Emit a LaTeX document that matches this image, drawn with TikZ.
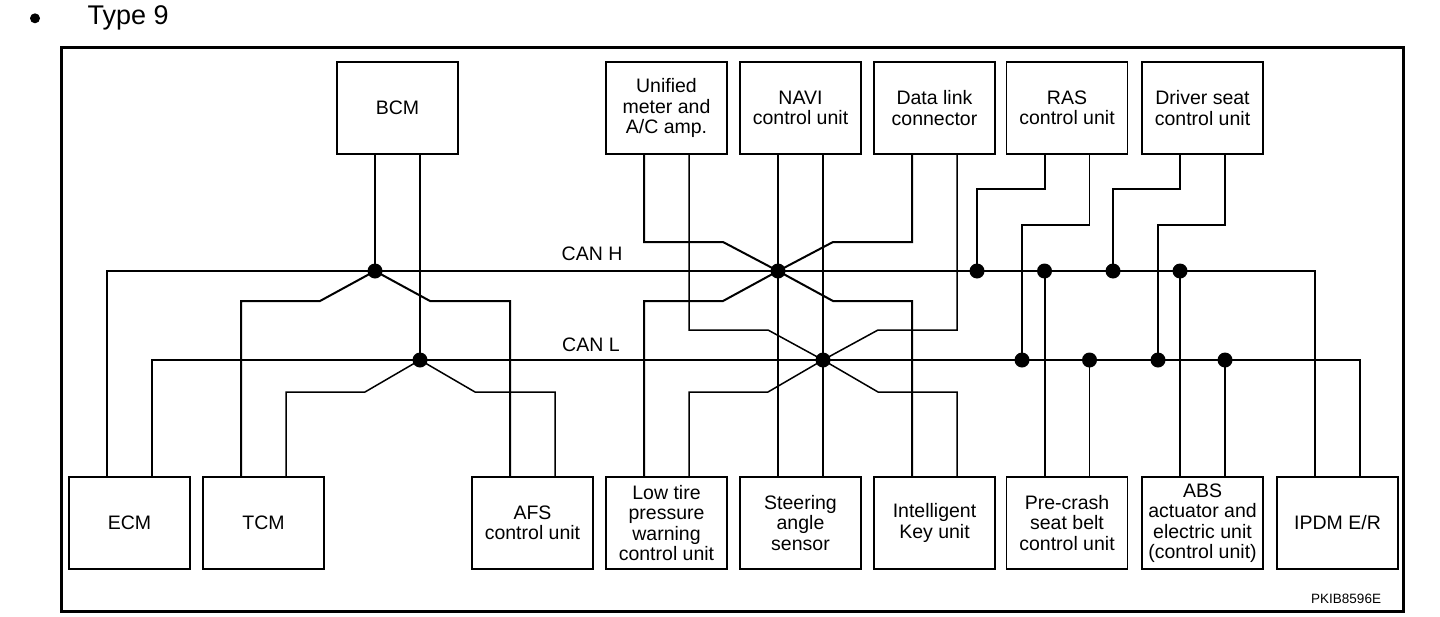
\documentclass[tikz,border=0pt]{standalone}
\usepackage{fontspec}
\setmainfont{Liberation Sans}
\begin{document}
\begin{tikzpicture}[x=1pt,y=-1pt,
  ecu/.style={draw, line width=1.3pt, minimum width=121pt, minimum height=92pt, inner sep=0pt, align=center, font=\fontsize{19.5}{20.5}\selectfont},
  hw/.style={line width=2pt},
  lw/.style={line width=1.5pt},
  lbus/.style={line width=1.3pt},
  jdot/.style={fill=black},
  lbl/.style={anchor=base west, inner sep=0pt, font=\fontsize{19.5}{20.5}\selectfont}]
\useasboundingbox (0,0) rectangle (1440,616);
% frame
\draw[line width=3pt] (61,47.5) rectangle (1403,611);
% title
\fill (35,18.3) circle (5);
\node[anchor=base west, inner sep=0pt, font=\fontsize{27}{30}\selectfont] (title) at (87.5,24) {Type 9};
\node[anchor=base west, inner sep=0pt, font=\fontsize{13.5}{15}\selectfont] (code) at (1311,603.3) {PKIB8596E};
% top row
\node[ecu] (bcm)  at (397.5,108) {BCM};
\node[ecu] (uni)  at (666.5,108) {Unified\\meter and\\A/C amp.};
\node[ecu] (navi) at (800.5,108) {NAVI\\control unit};
\node[ecu] (dlc)  at (934.5,108) {Data link\\connector};
\node[ecu] (ras)  at (1067,108) {RAS\\control unit};
\node[ecu] (drv)  at (1202.5,108) {Driver seat\\control unit};
% bottom row
\node[ecu] (ecm)  at (129.5,523) {ECM};
\node[ecu] (tcm)  at (263.5,523) {TCM};
\node[ecu] (afs)  at (532.5,523) {AFS\\control unit};
\node[ecu] (ltp)  at (666.5,523) {Low tire\\pressure\\warning\\control unit};
\node[ecu] (sas)  at (800.5,523) {Steering\\angle\\sensor};
\node[ecu] (ikey) at (934.5,523) {Intelligent\\Key unit};
\node[ecu] (pcs)  at (1067,523) {Pre-crash\\seat belt\\control unit};
\node[ecu] (abs)  at (1202.5,523) {ABS\\actuator and\\electric unit\\(control unit)};
\node[ecu] (ipdm) at (1337.5,523) {IPDM E/R};
% bus labels
\node[lbl] (canhlbl) at (561.5,260) {CAN H};
\node[lbl] (canllbl) at (562,351.7) {CAN L};
% bus reference points and junctions
\coordinate (canh) at (700,271);
\coordinate (canl) at (700,360);
\coordinate (jbh) at (375,271);
\coordinate (jbl) at (420,360);
\coordinate (jch) at (778,271);
\coordinate (jcl) at (823,360);
\coordinate (j1h) at (977,271);
\coordinate (j2h) at (1044.5,271);
\coordinate (j3h) at (1113,271);
\coordinate (j4h) at (1180,271);
\coordinate (j1l) at (1022,360);
\coordinate (j2l) at (1089.5,360);
\coordinate (j3l) at (1158,360);
\coordinate (j4l) at (1225,360);
% buses
\draw[hw] ([xshift=-22.5pt]ecm.north) |- (canh) -| ([xshift=-22.5pt]ipdm.north);
\draw[lbus] ([xshift=22.5pt]ecm.north) |- (canl) -| ([xshift=22.5pt]ipdm.north);
% BCM group
\draw[hw] ([xshift=-22.5pt]bcm.south) -- (jbh);
\draw[lw] ([xshift=22.5pt]bcm.south) -- (jbl);
\draw[hw] ([xshift=-22.5pt]tcm.north) |- (320,301) -- (jbh);
\draw[hw] ([xshift=-22.5pt]afs.north) |- (430,301) -- (jbh);
\draw[lw] ([xshift=22.5pt]tcm.north) |- (365,392) -- (jbl);
\draw[lw] ([xshift=22.5pt]afs.north) |- (475,392) -- (jbl);
% centre group
\draw[hw] ([xshift=-22.5pt]navi.south) -- ([xshift=-22.5pt]sas.north);
\draw[lw] ([xshift=22.5pt]navi.south) -- ([xshift=22.5pt]sas.north);
\draw[hw] ([xshift=-22.5pt]uni.south) |- (723,242) -- (jch);
\draw[hw] ([xshift=-22.5pt]dlc.south) |- (833,242) -- (jch);
\draw[hw] ([xshift=-22.5pt]ltp.north) |- (723,301) -- (jch);
\draw[hw] ([xshift=-22.5pt]ikey.north) |- (833,301) -- (jch);
\draw[lw] ([xshift=22.5pt]uni.south) |- (768,330) -- (jcl);
\draw[lw] ([xshift=22.5pt]dlc.south) |- (878,330) -- (jcl);
\draw[lw] ([xshift=22.5pt]ltp.north) |- (768,392) -- (jcl);
\draw[lw] ([xshift=22.5pt]ikey.north) |- (878,392) -- (jcl);
% right group
\draw[hw] ([xshift=-22.5pt]ras.south) |- (977,189) -- (j1h);
\draw[lw] ([xshift=22.5pt]ras.south) |- (1022,225) -- (j1l);
\draw[hw] ([xshift=-22.5pt]drv.south) |- (1113,189) -- (j3h);
\draw[lw] ([xshift=22.5pt]drv.south) |- (1158,225) -- (j3l);
\draw[hw] ([xshift=-22.5pt]pcs.north) -- (j2h);
\draw[lw] ([xshift=22.5pt]pcs.north) -- (j2l);
\draw[hw] ([xshift=-22.5pt]abs.north) -- (j4h);
\draw[lw] ([xshift=22.5pt]abs.north) -- (j4l);
% junction dots
\foreach \j in {jbh,jbl,jch,jcl,j1h,j2h,j3h,j4h,j1l,j2l,j3l,j4l}
  \fill[jdot] (\j) circle (7.5);
\end{tikzpicture}
\end{document}
